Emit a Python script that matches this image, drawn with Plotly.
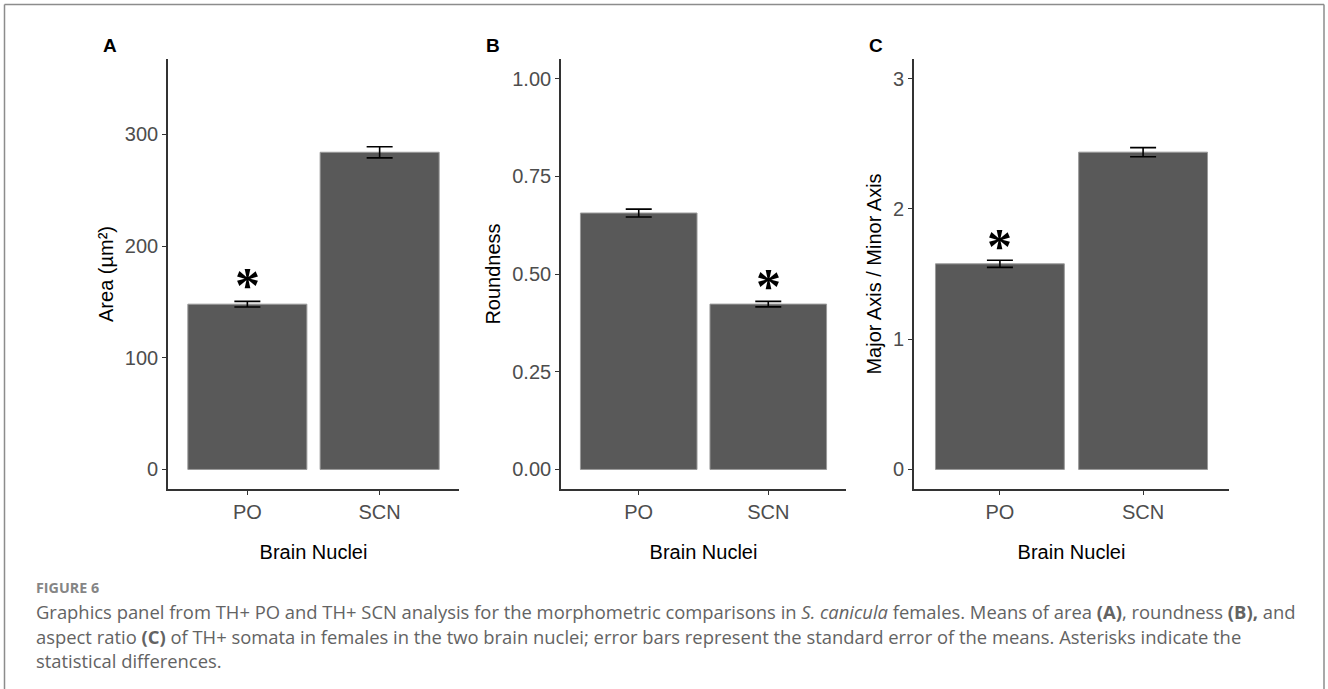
import plotly.graph_objects as go

W, H = 1328, 689

categories = ["PO", "SCN"]
area_mean = [148, 284]
area_se = [2.5, 5]
round_mean = [0.656, 0.423]
round_se = [0.010, 0.007]
ratio_mean = [1.578, 2.435]
ratio_se = [0.027, 0.035]

# asterisk (significance) marks: category, y value
star_area = ("PO", 172)
star_round = ("SCN", 0.49)
star_ratio = ("PO", 1.78)

panel_letters = ["A", "B", "C"]
y_titles = ["Area (µm²)", "Roundness", "Major Axis / Minor Axis"]
x_title = "Brain Nuclei"

def px_x(p):
    return p / W

def px_y(p):
    return 1 - p / H

fig = go.Figure()

panels = [
    dict(mean=area_mean, se=area_se, star=star_area, xd=(168, 459),
         yrange=[-17.5, 367.5], tickvals=[0, 100, 200, 300], ticktext=["0", "100", "200", "300"]),
    dict(mean=round_mean, se=round_se, star=star_round, xd=(561, 846),
         yrange=[-0.05, 1.05], tickvals=[0, 0.25, 0.5, 0.75, 1.0],
         ticktext=["0.00", "0.25", "0.50", "0.75", "1.00"]),
    dict(mean=ratio_mean, se=ratio_se, star=star_ratio, xd=(914, 1229),
         yrange=[-0.15, 3.15], tickvals=[0, 1, 2, 3], ticktext=["0", "1", "2", "3"]),
]

ydom = [px_y(489), px_y(59)]
tick_font = dict(family="Liberation Sans, Arial, sans-serif", size=20, color="#4d4d4d")
title_font = dict(family="Liberation Sans, Arial, sans-serif", size=20, color="#000000")

annotations = []
for i, p in enumerate(panels):
    k = "" if i == 0 else str(i + 1)
    xa, ya = "x" + k, "y" + k
    fig.add_trace(go.Bar(
        x=categories, y=p["mean"], width=0.9,
        marker=dict(color="#595959", line=dict(color="#9a9a9a", width=1)),
        error_y=dict(type="data", array=p["se"], color="#000000", thickness=1.6, width=13),
        xaxis=xa, yaxis=ya, showlegend=False, hoverinfo="skip",
    ))
    fig.update_layout(**{
        "xaxis" + k: dict(domain=[px_x(p["xd"][0]), px_x(p["xd"][1])], anchor=ya,
                          type="category", range=[-0.6, 1.6],
                          showline=True, linecolor="#333333", linewidth=1.6,
                          ticks="outside", ticklen=4, tickwidth=1.2, tickcolor="#333333",
                          tickfont=tick_font, showgrid=False, zeroline=False,
                          title=dict(text=x_title, font=title_font, standoff=23),
                          fixedrange=True),
        "yaxis" + k: dict(domain=ydom, anchor=xa, range=p["yrange"],
                          tickvals=p["tickvals"], ticktext=p["ticktext"],
                          showline=True, linecolor="#333333", linewidth=1.6,
                          ticks="outside", ticklen=4, tickwidth=1.2, tickcolor="#333333",
                          tickfont=tick_font, showgrid=False, zeroline=False,
                          title=dict(text=y_titles[i], font=title_font, standoff=6),
                          fixedrange=True),
    })
    annotations.append(dict(
        x=p["star"][0], y=p["star"][1], xref=xa, yref=ya, text="<b>*</b>",
        showarrow=False, yanchor="middle", yshift=-8,
        font=dict(family="Liberation Serif, Times New Roman, serif", size=50, color="#000000"),
    ))

# panel letters
for letter, xp in zip(panel_letters, [110, 493, 876]):
    annotations.append(dict(
        x=px_x(xp), y=px_y(46), xref="paper", yref="paper", text="<b>" + letter + "</b>",
        showarrow=False, xanchor="center", yanchor="middle",
        font=dict(family="Liberation Sans, Arial, sans-serif", size=19, color="#000000"),
    ))

caption_font = dict(family="Open Sans, Noto Sans, sans-serif", size=18.4, color="#636363")
annotations.append(dict(
    x=px_x(34), y=px_y(587), xref="paper", yref="paper", text="<b>FIGURE 6</b>",
    showarrow=False, xanchor="left", yanchor="middle",
    font=dict(family="Open Sans, Noto Sans, sans-serif", size=14.3, color="#858585"),
))
caption_lines = [
    "Graphics panel from TH+ PO and TH+ SCN analysis for the morphometric comparisons in <i>S. canicula</i> females. "
    "Means of area <b>(A)</b>, roundness <b>(B),</b> and",
    "aspect ratio <b>(C)</b> of TH+ somata in females in the two brain nuclei; error bars represent the standard error "
    "of the means. Asterisks indicate the",
    "statistical differences.",
]
for line, yp in zip(caption_lines, [611, 636, 660]):
    annotations.append(dict(
        x=px_x(34), y=px_y(yp), xref="paper", yref="paper", text=line,
        showarrow=False, xanchor="left", yanchor="middle", font=caption_font,
    ))

shapes = [
    dict(type="line", xref="paper", yref="paper", x0=px_x(4.5), x1=px_x(1324), y0=px_y(4.5), y1=px_y(4.5),
         line=dict(color="#8c8c8c", width=1.5)),
    dict(type="line", xref="paper", yref="paper", x0=px_x(4.5), x1=px_x(4.5), y0=px_y(4.5), y1=px_y(700),
         line=dict(color="#8c8c8c", width=1.5)),
    dict(type="line", xref="paper", yref="paper", x0=px_x(1324), x1=px_x(1324), y0=px_y(4.5), y1=px_y(700),
         line=dict(color="#8c8c8c", width=1.5)),
]

fig.update_layout(
    width=W, height=H, margin=dict(l=0, r=0, t=0, b=0),
    paper_bgcolor="#ffffff", plot_bgcolor="#ffffff",
    annotations=annotations, shapes=shapes, bargap=0.1,
)

fig.write_html("out.html", config={"displayModeBar": False},
               post_script="document.body.style.margin='0px';document.body.style.overflow='hidden';")
